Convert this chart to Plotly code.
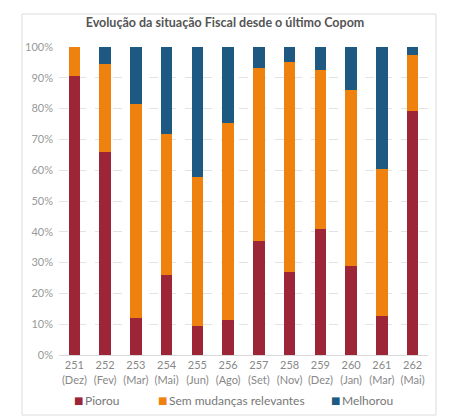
import plotly.graph_objects as go

# Reunioes do Copom (rotulos do eixo x)
COPOM = ["251", "252", "253", "254", "255", "256", "257", "258", "259", "260", "261", "262"]
MESES = ["Dez", "Fev", "Mar", "Mai", "Jun", "Ago", "Set", "Nov", "Dez", "Jan", "Mar", "Mai"]

# % de respostas por categoria
PIOROU   = [90.7, 65.8, 12.1, 26.0, 9.5, 11.5, 37.0, 26.8, 40.9, 28.8, 12.8, 79.1]
SEM_MUD  = [9.3, 28.7, 69.4, 45.8, 48.2, 63.9, 56.1, 68.4, 51.5, 57.3, 47.6, 18.4]
MELHOROU = [0.0, 5.5, 18.5, 28.2, 42.3, 24.6, 6.9, 4.8, 7.6, 13.9, 39.6, 2.5]

Y_TICKS = [0, 10, 20, 30, 40, 50, 60, 70, 80, 90, 100]

RED    = "#9c2638"
ORANGE = "#ef810f"
BLUE   = "#1d5981"
FONT   = "Lato"

labels = [f"{c}<br>({m})" for c, m in zip(COPOM, MESES)]
series = [
    ("Piorou", PIOROU, RED),
    ("Sem mudanças relevantes", SEM_MUD, ORANGE),
    ("Melhorou", MELHOROU, BLUE),
]

fig = go.Figure()
for name, vals, color in series:
    fig.add_trace(go.Bar(
        x=labels, y=vals, name=name,
        marker_color=color, marker_line=dict(width=0),
        width=0.38, showlegend=False,
    ))

# the page is drawn 8px right/down of the figure origin, so work in screen px
OFF = 8
W, H = 474, 419
PL, PR, PT, PB = 59, 428, 47, 355   # plot area on screen
L, T = PL - OFF, PT - OFF
R, B = W - (PR - OFF), H - (PB - OFF)
pw, ph = PR - PL, PB - PT


def px_x(p):
    return (p - PL) / pw


def px_y(p):
    return (PB - p) / ph


# legend drawn as annotations: small square + label
leg_ann = []
for (name, _, color), sq_x in zip(series, [78, 162, 335]):
    leg_ann.append(dict(
        text="■", x=px_x(sq_x), y=px_y(400), xref="paper", yref="paper",
        xanchor="center", yanchor="middle", showarrow=False,
        font=dict(size=10, color=color, family="DejaVu Sans"),
    ))
    leg_ann.append(dict(
        text=name, x=px_x(sq_x + 5), y=px_y(400), xref="paper", yref="paper",
        xanchor="left", yanchor="middle", showarrow=False,
        font=dict(size=12, color="#777", family=FONT),
    ))

fig.update_layout(
    width=W, height=H,
    margin=dict(l=L, r=R, t=T, b=B),
    paper_bgcolor="white", plot_bgcolor="white",
    barmode="stack",
    font=dict(family=FONT, color="#888"),
    title=dict(
        text="<b>Evolução da situação Fiscal desde o último Copom</b>",
        x=(225 - OFF) / W, xanchor="center",
        y=1 - (23 - OFF) / H, yanchor="middle",
        font=dict(size=12.5, color="#555", family=FONT),
    ),
    xaxis=dict(
        tickfont=dict(size=11, color="#888", family=FONT),
        showline=True, linecolor="#d9d9d9", linewidth=1,
        ticks="", showgrid=False,
    ),
    yaxis=dict(
        range=[0, 100], tickvals=Y_TICKS,
        ticktext=[f"{v}%" for v in Y_TICKS],
        tickfont=dict(size=11, color="#999", family=FONT),
        showgrid=True, gridcolor="#e3e3e3", griddash="dash", gridwidth=1,
        zeroline=False, ticks="", ticklabelstandoff=5,
    ),
    annotations=leg_ann,
    shapes=[dict(
        type="rect", xref="paper", yref="paper",
        x0=px_x(22), x1=px_x(436), y0=px_y(415), y1=px_y(14),
        line=dict(color="#dcdcdc", width=1), layer="below",
    )],
)

fig.write_html("out.html")
